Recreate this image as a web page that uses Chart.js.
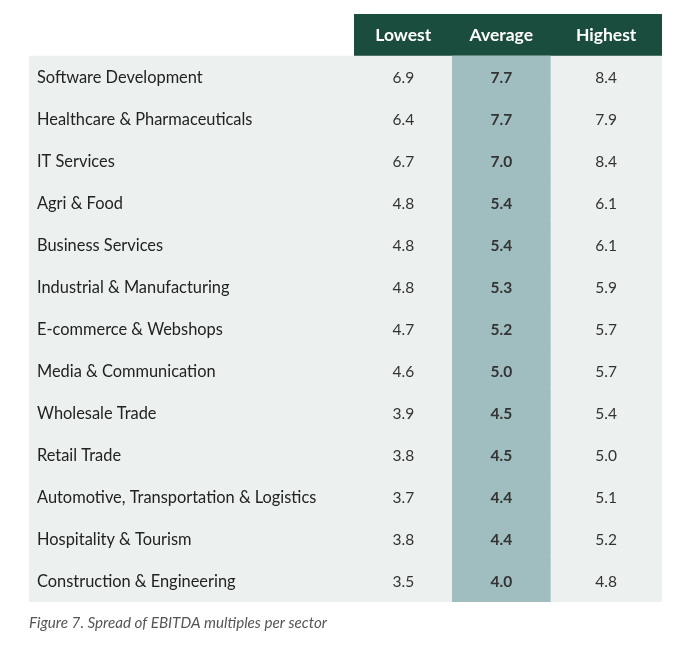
<!DOCTYPE html>
<html>
<head>
<meta charset="utf-8">
<script src="https://cdn.jsdelivr.net/npm/chart.js@4.4.1/dist/chart.umd.min.js"></script>
<style>
  html, body { margin: 0; padding: 0; background: #fff; }
  #wrap { width: 683px; height: 645px; }
</style>
</head>
<body>
<div id="wrap"><canvas id="tableChart"></canvas></div>
<script>
// data
const sectors = [
    'Software Development',
    'Healthcare & Pharmaceuticals',
    'IT Services',
    'Agri & Food',
    'Business Services',
    'Industrial & Manufacturing',
    'E-commerce & Webshops',
    'Media & Communication',
    'Wholesale Trade',
    'Retail Trade',
    'Automotive, Transportation & Logistics',
    'Hospitality & Tourism',
    'Construction & Engineering'
];
const lowest  = [6.9, 6.4, 6.7, 4.8, 4.8, 4.8, 4.7, 4.6, 3.9, 3.8, 3.7, 3.8, 3.5];
const average = [7.7, 7.7, 7.0, 5.4, 5.4, 5.3, 5.2, 5.0, 4.5, 4.5, 4.4, 4.4, 4.0];
const highest = [8.4, 7.9, 8.4, 6.1, 6.1, 5.9, 5.7, 5.7, 5.4, 5.0, 5.1, 5.2, 4.8];
const columnNames = ['Lowest', 'Average', 'Highest'];
const caption = 'Figure 7. Spread of EBITDA multiples per sector';

// table layout in column units (label column is left of 0)
const labelStart = -3.32;
const tableEnd = 3.14;
const colSpans = [[0, 1], [1, 2], [2, tableEnd]];
const fontFamily = 'Lato, "Noto Sans", sans-serif';

// first category is the header row
const rows = [''].concat(sectors);
const headerBar = rows.map((r, i) => i === 0 ? [0, tableEnd] : null);
const panelBar = rows.map((r, i) => i === 0 ? null : [labelStart, tableEnd]);
const averageBar = rows.map((r, i) => i === 0 ? null : colSpans[1]);

const textPlugin = {
    id: 'tableText',
    afterDatasetsDraw(chart) {
        const { ctx, chartArea, scales: { x, y } } = chart;
        ctx.save();
        ctx.textBaseline = 'middle';

        // header titles
        ctx.fillStyle = '#ffffff';
        ctx.font = 'bold 17.5px ' + fontFamily;
        ctx.textAlign = 'center';
        columnNames.forEach((name, c) => {
            const mid = (colSpans[c][0] + colSpans[c][1]) / 2;
            ctx.fillText(name, x.getPixelForValue(mid), y.getPixelForValue(0));
        });

        const series = [lowest, average, highest];
        sectors.forEach((name, i) => {
            const yy = y.getPixelForValue(i + 1) + 1;
            ctx.textAlign = 'left';
            ctx.font = '16.4px ' + fontFamily;
            ctx.fillStyle = '#222';
            ctx.fillText(name, chartArea.left + 8, yy);

            ctx.textAlign = 'center';
            series.forEach((vals, c) => {
                const mid = (colSpans[c][0] + colSpans[c][1]) / 2;
                ctx.font = (c === 1 ? 'bold ' : '') + '15.5px ' + fontFamily;
                ctx.fillStyle = '#333';
                ctx.fillText(vals[i].toFixed(1), x.getPixelForValue(mid), yy);
            });
        });

        // caption under the table
        ctx.textAlign = 'left';
        ctx.font = 'italic 15.2px ' + fontFamily;
        ctx.fillStyle = '#555';
        ctx.fillText(caption, chartArea.left, chartArea.bottom + 21);
        ctx.restore();
    }
};

new Chart(document.getElementById('tableChart'), {
    type: 'bar',
    data: {
        labels: rows,
        datasets: [
            { data: averageBar, backgroundColor: '#a0bdbf', order: 1 },
            { data: panelBar, backgroundColor: '#ecf0ef', order: 2 },
            { data: headerBar, backgroundColor: '#1b4d3e', order: 3 }
        ]
    },
    options: {
        indexAxis: 'y',
        responsive: true,
        maintainAspectRatio: false,
        animation: false,
        layout: { padding: { left: 29, right: 21, top: 14, bottom: 43 } },
        datasets: { bar: { grouped: false, barPercentage: 1, categoryPercentage: 1 } },
        scales: {
            x: { type: 'linear', min: labelStart, max: tableEnd, display: false },
            y: { type: 'category', display: false, offset: true }
        },
        plugins: { legend: { display: false }, tooltip: { enabled: false } }
    },
    plugins: [textPlugin]
});
</script>
</body>
</html>
